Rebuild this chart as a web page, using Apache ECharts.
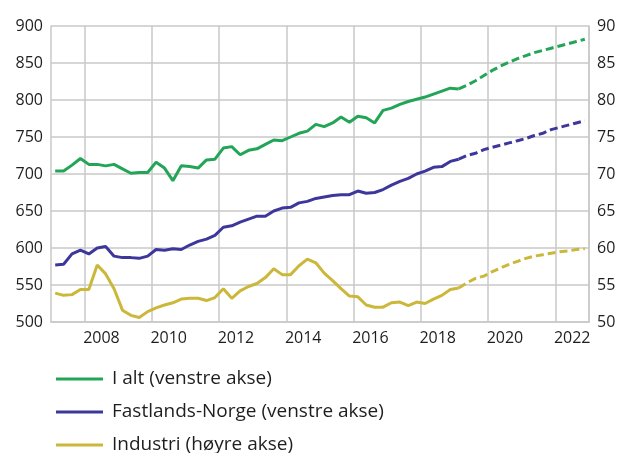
<!DOCTYPE html>
<html>
<head>
<meta charset="utf-8">
<script src="https://cdn.jsdelivr.net/npm/echarts@6/dist/echarts.min.js"></script>
<style>
  html, body { margin: 0; padding: 0; background: #fff; }
  #main { width: 627px; height: 453px; }
</style>
</head>
<body>
<div id="main"></div>
<script>
// år på x-aksen (en kategori per år, etikett på partall)
var years = ['2007', '2008', '2009', '2010', '2011', '2012', '2013', '2014',
  '2015', '2016', '2017', '2018', '2019', '2020', '2021', '2022'];
var names = ['I alt (venstre akse)', 'Fastlands-Norge (venstre akse)', 'Industri (høyre akse)'];

// kvartalstall fra 2007K1, faktiske tall (heltrukket)
var iAlt = [704, 704, 712, 721, 713, 713, 711, 713, 707, 701, 702, 702, 716, 708, 691, 711,
  710, 708, 719, 720, 735, 737, 726, 732, 734, 740, 746, 745, 750, 755, 758, 767,
  764, 769, 777, 770, 778, 776, 769, 786, 789, 794, 798, 801, 804, 808, 812, 816, 815];
var fastland = [577, 578, 592, 597, 592, 600, 602, 589, 587, 587, 586, 589, 598, 597, 599, 598,
  604, 609, 612, 617, 628, 630, 635, 639, 643, 643, 650, 654, 655, 661, 663, 667,
  669, 671, 672, 672, 677, 674, 675, 679, 685, 690, 694, 700, 704, 709, 710, 717, 720];
var industri = [53.9, 53.6, 53.7, 54.4, 54.4, 57.7, 56.5, 54.5, 51.6, 50.9, 50.6, 51.4, 51.9, 52.3, 52.6, 53.1,
  53.2, 53.2, 52.9, 53.3, 54.5, 53.2, 54.2, 54.8, 55.2, 56.0, 57.2, 56.4, 56.4, 57.6, 58.5, 58.0,
  56.6, 55.6, 54.5, 53.5, 53.4, 52.3, 52.0, 52.0, 52.6, 52.7, 52.2, 52.7, 52.5, 53.1, 53.6, 54.4, 54.6];

// anslag fra 2019K1 (stiplet)
var forecastStart = 48;
var iAltForecast = [815, 820, 826, 833, 840, 846, 851, 856, 860, 864, 867, 870, 873, 876, 879, 882];
var fastlandForecast = [720, 725, 728, 733, 736, 739, 742, 745, 748, 752, 755, 760, 763, 766, 769, 772];
var industriForecast = [54.6, 55.3, 55.9, 56.2, 56.8, 57.3, 57.8, 58.2, 58.6, 58.9, 59.1, 59.3, 59.5, 59.6, 59.8, 59.9];

var colors = ['#22a557', '#3d379b', '#cbb83a'];
var gridColor = '#c9c9c9';
var textColor = '#1e1e1e';
var font = 'Open Sans';

// kvartal k plasseres midt i kvartalet (x i kvartaler fra 2007)
function toPairs(arr, start) {
  return arr.map(function (v, i) {
    return [start + i + 0.5, v];
  });
}

function makeSeries(name, arr, start, color, yIndex, dashed) {
  return {
    name: name,
    type: 'line',
    xAxisIndex: 1,
    yAxisIndex: yIndex,
    data: toPairs(arr, start),
    showSymbol: false,
    symbol: 'none',
    silent: true,
    animation: false,
    lineStyle: { color: color, width: 3, type: dashed ? [8, 4] : 'solid' },
    itemStyle: { color: color }
  };
}

// en legend per linje, stablet under figuren
function makeLegend(name, centerY) {
  return {
    orient: 'vertical',
    left: 56,
    top: centerY - 11,
    padding: 0,
    icon: 'rect',
    itemWidth: 47,
    itemHeight: 3,
    selectedMode: false,
    data: [name],
    textStyle: { fontFamily: font, fontSize: 19, color: textColor, lineHeight: 22, padding: [0, 0, 0, 4] }
  };
}

var chart = echarts.init(document.getElementById('main'), null, { renderer: 'canvas' });

var option = {
  animation: false,
  grid: { left: 51, right: 38, top: 26, bottom: 131, containLabel: false },
  legend: [
    makeLegend(names[0], 379),
    makeLegend(names[1], 412),
    makeLegend(names[2], 445)
  ],
  xAxis: [{
    type: 'category',
    data: years,
    boundaryGap: true,
    axisLine: { show: true, lineStyle: { color: gridColor, width: 1.5 } },
    axisTick: { show: false },
    axisLabel: {
      interval: function (i, v) { return +v % 2 === 0; },
      margin: 8,
      fontFamily: font,
      fontSize: 16,
      color: textColor
    },
    splitLine: {
      show: true,
      interval: function (i, v) { return +v % 2 === 0; },
      lineStyle: { color: gridColor, width: 1.5 }
    }
  }, {
    type: 'value',
    min: 0,
    max: 64,
    show: false
  }],
  yAxis: [{
    type: 'value',
    min: 500,
    max: 900,
    interval: 50,
    axisLine: { show: true, lineStyle: { color: gridColor, width: 1.5 } },
    axisTick: { show: false },
    axisLabel: { margin: 8, fontFamily: font, fontSize: 16, color: textColor },
    splitLine: { show: true, lineStyle: { color: gridColor, width: 1.5 } }
  }, {
    type: 'value',
    min: 50,
    max: 90,
    interval: 5,
    position: 'right',
    axisLine: { show: true, lineStyle: { color: gridColor, width: 1.5 } },
    axisTick: { show: false },
    axisLabel: { margin: 8, fontFamily: font, fontSize: 16, color: textColor },
    splitLine: { show: false }
  }],
  series: [
    makeSeries(names[0], iAlt, 0, colors[0], 0, false),
    makeSeries(names[1], fastland, 0, colors[1], 0, false),
    makeSeries(names[2], industri, 0, colors[2], 1, false),
    makeSeries(names[0], iAltForecast, forecastStart, colors[0], 0, true),
    makeSeries(names[1], fastlandForecast, forecastStart, colors[1], 0, true),
    makeSeries(names[2], industriForecast, forecastStart, colors[2], 1, true)
  ]
};

chart.setOption(option);
</script>
</body>
</html>
